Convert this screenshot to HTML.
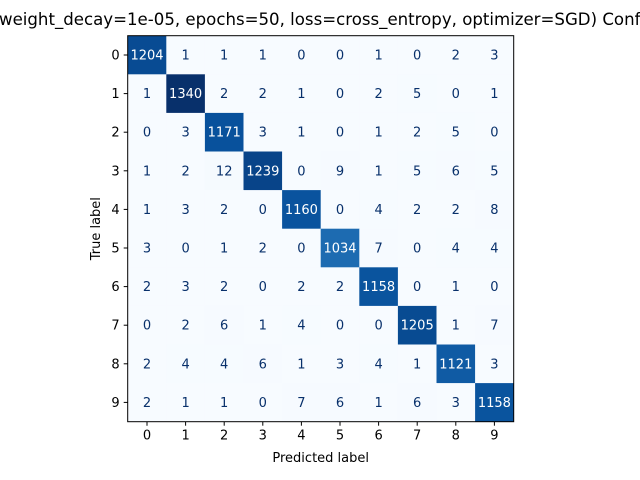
<!DOCTYPE html>
<html><head><meta charset="utf-8"><style>body{margin:0;background:#fff}svg{display:block;font-family:"DejaVu Sans","Liberation Sans",sans-serif}</style></head>
<body>
<svg id="chart" width="640" height="480" xmlns="http://www.w3.org/2000/svg">
<text x="-1" y="25" font-size="16.6" fill="#000">weight_decay=1e-05, epochs=50, loss=cross_entropy, optimizer=SGD) Confusion Matrix</text>
<g id="cells"></g>
<rect x="127.7" y="35.7" width="386" height="386" fill="none" stroke="#000" stroke-width="1"/>
<g id="ticks"></g>
<text x="320.7" y="462" font-size="13" text-anchor="middle">Predicted label</text>
<text transform="translate(100,228.7) rotate(-90)" font-size="13" text-anchor="middle">True label</text>
</svg>
<script>
const labels=["0","1","2","3","4","5","6","7","8","9"];
const matrix=[
[1204,1,1,1,0,0,1,0,2,3],
[1,1340,2,2,1,0,2,5,0,1],
[0,3,1171,3,1,0,1,2,5,0],
[1,2,12,1239,0,9,1,5,6,5],
[1,3,2,0,1160,0,4,2,2,8],
[3,0,1,2,0,1034,7,0,4,4],
[2,3,2,0,2,2,1158,0,1,0],
[0,2,6,1,4,0,0,1205,1,7],
[2,4,4,6,1,3,4,1,1121,3],
[2,1,1,0,7,6,1,6,3,1158]];
const X0=127.7,Y0=35.7,S=38.6;
const xs=i=>X0+i*S, ys=i=>Y0+i*S;
const stops=[[247,251,255],[222,235,247],[198,219,239],[158,202,225],[107,174,214],[66,146,198],[33,113,181],[8,81,156],[8,48,107]];
function blues(t){t=Math.max(0,Math.min(1,t));const p=t*8,i=Math.min(7,Math.floor(p)),f=p-i;const a=stops[i],b=stops[i+1];return `rgb(${a.map((v,k)=>Math.round(v+(b[k]-v)*f)).join(',')})`;}
let mx=0,mn=Infinity;matrix.forEach(r=>r.forEach(v=>{mx=Math.max(mx,v);mn=Math.min(mn,v);}));
const NS="http://www.w3.org/2000/svg";
const cells=document.getElementById('cells'),ticks=document.getElementById('ticks');
matrix.forEach((row,r)=>row.forEach((v,c)=>{
 const rc=document.createElementNS(NS,'rect');
 
 
 rc.setAttribute('x',xs(c));rc.setAttribute('y',ys(r));rc.setAttribute('width',S+0.3);rc.setAttribute('height',S+0.3);
 rc.setAttribute('fill',blues((v-mn)/(mx-mn)));cells.appendChild(rc);
 const t=document.createElementNS(NS,'text');
 
 
 t.setAttribute('x',xs(c)+S/2);t.setAttribute('y',ys(r)+S/2+4.5);t.setAttribute('font-size','13');t.setAttribute('text-anchor','middle');
 t.setAttribute('fill',v>(mx+mn)/2?'#ffffff':'#08306b');t.textContent=v;cells.appendChild(t);
}));
labels.forEach((l,i)=>{
 const c=xs(i)+S/2,cy=ys(i)+S/2,b=Y0+10*S;
 const tx=document.createElementNS(NS,'line');
 
 
 tx.setAttribute('x1',c);tx.setAttribute('x2',c);tx.setAttribute('y1',b);tx.setAttribute('y2',b+4);tx.setAttribute('stroke','#000');ticks.appendChild(tx);
 const xl=document.createElementNS(NS,'text');
 
 
 xl.setAttribute('x',c);xl.setAttribute('y',b+18);xl.setAttribute('font-size','13');xl.setAttribute('text-anchor','middle');xl.textContent=l;ticks.appendChild(xl);
 const ty=document.createElementNS(NS,'line');
 
 
 ty.setAttribute('x1',X0-4);ty.setAttribute('x2',X0);ty.setAttribute('y1',cy);ty.setAttribute('y2',cy);ty.setAttribute('stroke','#000');ticks.appendChild(ty);
 const yl=document.createElementNS(NS,'text');
 
 
 yl.setAttribute('x',X0-8);yl.setAttribute('y',cy+4.5);yl.setAttribute('font-size','13');yl.setAttribute('text-anchor','end');yl.textContent=l;ticks.appendChild(yl);
});
</script>
</body></html>
